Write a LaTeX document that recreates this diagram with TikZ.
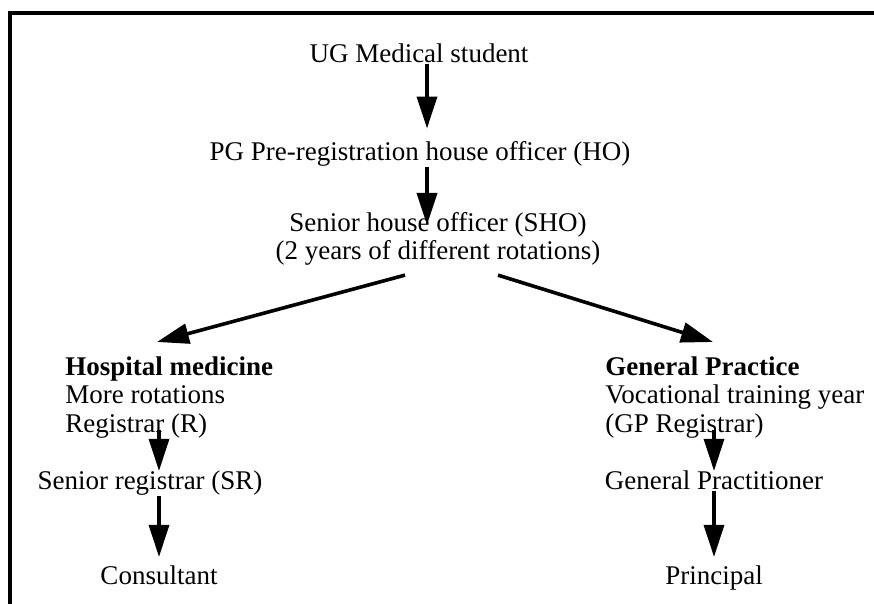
\documentclass[tikz,border=0pt]{standalone}
\usepackage{fontspec}
\setmainfont{Liberation Serif}
\usetikzlibrary{arrows.meta}

\begin{document}
\begin{tikzpicture}[
  x=0.5pt, y=-0.5pt,
  lbl/.style={inner sep=0pt, font=\fontsize{13.5}{14.25}\selectfont},
  blk/.style={lbl, align=left, anchor=north west},
  arr/.style={-{Triangle[length=16pt,width=10pt]}, line width=1.8pt}
]
\useasboundingbox (0,0) rectangle (874,604);
\draw[line width=2pt] (10,604) -- (10,13) -- (874,13);

\node[lbl, anchor=base] (ug) at (419,63) {UG Medical student};
\node[lbl, anchor=base] (pg) at (420,161) {PG Pre-registration house officer (HO)};
\node[lbl, align=center, anchor=north] (sho) at (438,212)
  {Senior house officer (SHO)\\(2 years of different rotations)};
\node[blk] (hosp) at (65,356) {\textbf{Hospital medicine}\\More rotations\\Registrar (R)};
\node[blk] (gp) at (605,356) {\textbf{General Practice}\\Vocational training year\\(GP Registrar)};
\node[lbl, anchor=base] (sr) at (150,490) {Senior registrar (SR)};
\node[lbl, anchor=base] (gpr) at (714,490) {General Practitioner};
\node[lbl, anchor=base] (cons) at (159,584) {Consultant};
\node[lbl, anchor=base] (prin) at (714,584) {Principal};
\coordinate (mid) at (427,0);

\draw[arr, shorten >=6.5pt] (ug.south -| mid) -- (pg.north -| mid);
\draw[arr, shorten >=-6.5pt] (pg.south -| mid) -- (sho.north -| mid);
\draw[arr] ([xshift=-16.5pt,yshift=-4.5pt]sho.south) -- ([xshift=46pt,yshift=7pt]hosp.north west);
\draw[arr] ([xshift=30pt,yshift=-4.5pt]sho.south) -- ([xshift=54pt,yshift=7pt]gp.north west);
\draw[arr, shorten <=-4pt] (hosp.south -| cons) -- (sr.north -| cons);
\draw[arr, shorten >=4pt] (sr.south -| cons) -- (cons.north);
\draw[arr, shorten <=-4pt] (gp.south -| prin) -- (gpr.north -| prin);
\draw[arr, shorten >=4pt] (gpr.south -| prin) -- (prin.north);
\end{tikzpicture}
\end{document}
